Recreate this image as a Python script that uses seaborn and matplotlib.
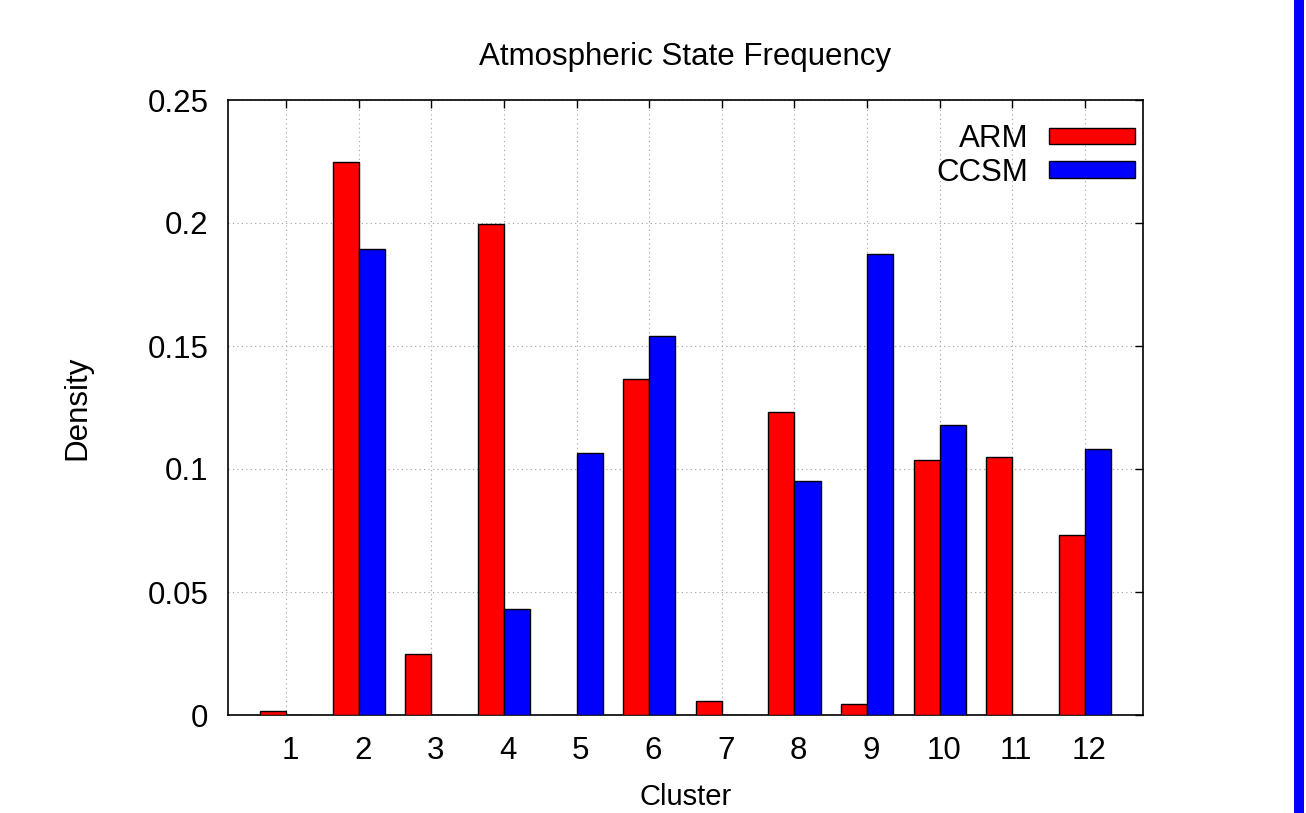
import matplotlib
matplotlib.use("Agg")
import matplotlib.pyplot as plt
import matplotlib.transforms as mtransforms
from matplotlib.patches import Rectangle
import seaborn as sns
import pandas as pd

clusters = ["1", "2", "3", "4", "5", "6", "7", "8", "9", "10", "11", "12"]
arm = [0.0015, 0.2248, 0.0248, 0.1996, 0.0, 0.1366, 0.0057, 0.1232, 0.0045, 0.1037, 0.1049, 0.0732]
ccsm = [0.0, 0.1894, 0.0, 0.0431, 0.1065, 0.1540, 0.0, 0.0951, 0.1874, 0.1179, 0.0, 0.1081]
series_names = ["ARM", "CCSM"]
series_colors = ["#ff0000", "#0000ff"]
y_ticks = [0, 0.05, 0.1, 0.15, 0.2, 0.25]
y_tick_labels = ["0", "0.05", "0.1", "0.15", "0.2", "0.25"]

df = pd.DataFrame({
    "Cluster": clusters * 2,
    "Density": arm + ccsm,
    "Series": [series_names[0]] * len(clusters) + [series_names[1]] * len(clusters),
})

sns.set_style("white")
plt.rcParams["font.family"] = ["Liberation Sans", "DejaVu Sans"]
plt.rcParams["text.color"] = "black"
plt.rcParams["axes.labelcolor"] = "black"
plt.rcParams["xtick.color"] = "black"
plt.rcParams["ytick.color"] = "black"
FS = 22.5

fig = plt.figure(figsize=(13.06, 8.13), dpi=100)
ax = fig.add_axes([228 / 1306, 1 - 715 / 813, (1143 - 228) / 1306, (715 - 100) / 813])

sns.barplot(data=df, x="Cluster", y="Density", hue="Series", order=clusters,
            hue_order=series_names, palette=series_colors, width=0.72,
            edgecolor="black", linewidth=1.0, saturation=1, ax=ax, zorder=3)

ax.set_xlim(-0.8, 11.8)
ax.set_ylim(0, 0.25)
ax.set_yticks(y_ticks)
ax.set_yticklabels(y_tick_labels)
ax.grid(True, linestyle=(0, (1, 3)), color="#a0a0a0", linewidth=0.8, zorder=0)
ax.set_axisbelow(True)

for s in ax.spines.values():
    s.set_visible(True)
    s.set_color("black")
    s.set_linewidth(1.2)

ax.tick_params(axis="both", which="major", direction="in", length=6, width=1,
               top=True, right=True, labelsize=FS, colors="black", pad=14)
ax.tick_params(axis="x", pad=15)
offset = mtransforms.ScaledTranslation(4 / 100, 0, fig.dpi_scale_trans)
for lbl in ax.get_xticklabels():
    lbl.set_transform(lbl.get_transform() + offset)

ax.set_title("Atmospheric State Frequency", fontsize=FS, pad=25, color="black")
ax.set_xlabel("Cluster", fontsize=21, labelpad=12)
ax.set_ylabel("Density", fontsize=FS, labelpad=40)

leg = ax.get_legend()
handles = leg.legend_handles
labels = [t.get_text() for t in leg.get_texts()]
leg.remove()
ax.legend(handles, labels, loc="upper right", bbox_to_anchor=(1135 / 1306, 1 - 124 / 813),
          bbox_transform=fig.transFigure, frameon=False, markerfirst=False,
          fontsize=FS, handlelength=2.75, handleheight=0.42, handletextpad=0.65,
          labelspacing=0.12, borderpad=0, borderaxespad=0, labelcolor="black")

fig.patches.append(Rectangle((1294 / 1306, 0), 10 / 1306, 1, transform=fig.transFigure,
                             facecolor="#0000ff", edgecolor="none", figure=fig))

fig.savefig("out.png", dpi=100)
